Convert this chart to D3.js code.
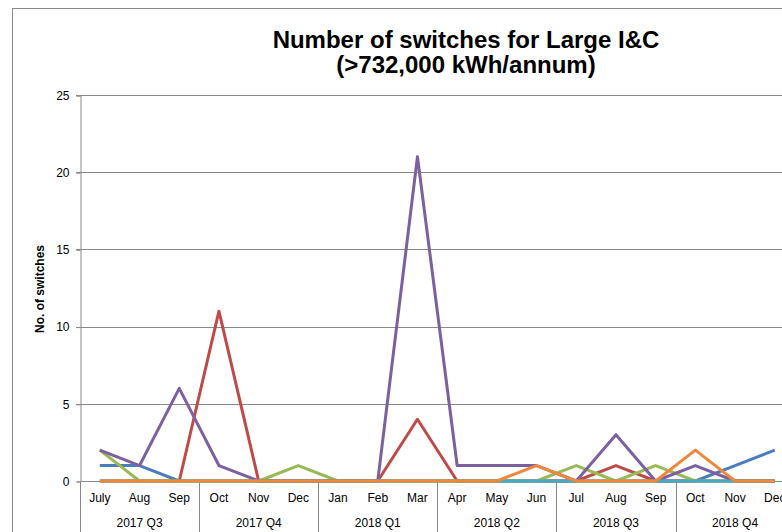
<!DOCTYPE html>
<html>
<head>
<meta charset="utf-8">
<script src="https://cdn.jsdelivr.net/npm/d3@7"></script>
<style>
body { margin: 0; background: #fff; }
svg { display: block; font-family: "Liberation Sans", Arial, sans-serif; }
</style>
</head>
<body>
<div id="chart"></div>
<script>
// months Jul 2017 - Dec 2018
const months = ["July", "Aug", "Sep", "Oct", "Nov", "Dec", "Jan", "Feb", "Mar",
	"Apr", "May", "Jun", "Jul", "Aug", "Sep", "Oct", "Nov", "Dec"];
const quarters = ["2017 Q3", "2017 Q4", "2018 Q1", "2018 Q2", "2018 Q3", "2018 Q4"];
const yTicks = [0, 5, 10, 15, 20, 25];

const seriesBlue   = [1, 1, 0, 0, 0, 0, 0, 0, 0, 0, 0, 0, 0, 0, 0, 0, 1, 2];
const seriesRed    = [0, 0, 0, 11, 0, 0, 0, 0, 4, 0, 0, 0, 0, 1, 0, 0, 0, 0];
const seriesGreen  = [2, 0, 0, 0, 0, 1, 0, 0, 0, 0, 0, 0, 1, 0, 1, 0, 0, 0];
const seriesPurple = [2, 1, 6, 1, 0, 0, 0, 0, 21, 1, 1, 1, 0, 3, 0, 1, 0, 0];
const seriesTeal   = [0, 0, 0, 0, 0, 0, 0, 0, 0, 0, 0, 0, 0, 0, 0, 0, 0, 0];
const seriesOrange = [0, 0, 0, 0, 0, 0, 0, 0, 0, 0, 0, 1, 0, 0, 0, 2, 0, 0];

const series = [
	{ values: seriesBlue, color: "#4A7EBB" },
	{ values: seriesRed, color: "#BE4B48" },
	{ values: seriesGreen, color: "#98B954" },
	{ values: seriesPurple, color: "#7D60A0" },
	{ values: seriesTeal, color: "#46AAC5" },
	{ values: seriesOrange, color: "#F0883A" }
];

let width = 782, height = 532;
let svg = d3.select("#chart")
	.append("svg")
	.attr("width", width)
	.attr("height", height);

// chart area border (runs off the right and bottom)
svg.append("rect")
	.attr("x", 12.5).attr("y", 8.5)
	.attr("width", 920).attr("height", 560)
	.attr("fill", "#fff")
	.attr("stroke", "#8a8a8a")
	.attr("stroke-width", 1);

let plotLeft = 80, plotTop = 95, plotBottom = 481;
let step = 39.7;

let xScale = d3.scaleBand()
	.domain(d3.range(months.length))
	.range([plotLeft, plotLeft + step * months.length])
	.padding(0);
let yScale = d3.scaleLinear().domain([0, 25]).range([plotBottom, plotTop]);

// title
let title = svg.append("text")
	.attr("text-anchor", "middle")
	.attr("font-weight", "bold")
	.attr("font-size", "24px")
	.attr("fill", "#000");
title.append("tspan").attr("x", 466).attr("y", 48).text("Number of switches for Large I&C");
title.append("tspan").attr("x", 466).attr("y", 73).text("(>732,000 kWh/annum)");

// gridlines
svg.append("g")
	.selectAll("line")
	.data(yTicks.filter(d => d > 0))
	.join("line")
	.attr("x1", plotLeft - 4)
	.attr("x2", xScale.range()[1])
	.attr("y1", d => Math.round(yScale(d)) + 0.5)
	.attr("y2", d => Math.round(yScale(d)) + 0.5)
	.attr("stroke", "#8a8a8a");

// y axis
let yAxis = svg.append("g")
	.attr("transform", `translate(${plotLeft + 0.5}, 0.5)`)
	.call(d3.axisLeft(yScale).tickValues(yTicks).tickSize(4).tickPadding(7));
yAxis.select(".domain").attr("stroke", "#8a8a8a");
yAxis.selectAll(".tick line").attr("stroke", "#8a8a8a");
yAxis.selectAll(".tick text")
	.attr("font-size", "12px")
	.attr("font-family", "Liberation Sans, Arial, sans-serif")
	.attr("fill", "#000");

svg.append("text")
	.attr("transform", "translate(44, 289) rotate(-90)")
	.attr("text-anchor", "middle")
	.attr("font-weight", "bold")
	.attr("font-size", "12px")
	.text("No. of switches");

// x axis line + quarter separators
svg.append("line")
	.attr("x1", plotLeft).attr("x2", xScale.range()[1])
	.attr("y1", plotBottom + 0.5).attr("y2", plotBottom + 0.5)
	.attr("stroke", "#8a8a8a");

svg.append("g")
	.selectAll("line")
	.data(d3.range(quarters.length + 1))
	.join("line")
	.attr("x1", d => Math.round(plotLeft + d * 3 * step) + 0.5)
	.attr("x2", d => Math.round(plotLeft + d * 3 * step) + 0.5)
	.attr("y1", plotBottom)
	.attr("y2", height)
	.attr("stroke", "#8a8a8a");

svg.append("g")
	.selectAll("text")
	.data(months)
	.join("text")
	.attr("x", (d, i) => xScale(i) + xScale.bandwidth() / 2)
	.attr("y", 502)
	.attr("text-anchor", "middle")
	.attr("font-size", "12px")
	.text(d => d);

svg.append("g")
	.selectAll("text")
	.data(quarters)
	.join("text")
	.attr("x", (d, i) => plotLeft + (i * 3 + 1.5) * step)
	.attr("y", 527)
	.attr("text-anchor", "middle")
	.attr("font-size", "12px")
	.text(d => d);

// lines
let line = d3.line()
	.x((d, i) => xScale(i) + xScale.bandwidth() / 2)
	.y(d => yScale(d));

for (let s of series) {
	svg.append("path")
		.datum(s.values)
		.attr("d", line)
		.attr("fill", "none")
		.attr("stroke", s.color)
		.attr("stroke-width", 3)
		.attr("stroke-linejoin", "round");
}
</script>
</body>
</html>
